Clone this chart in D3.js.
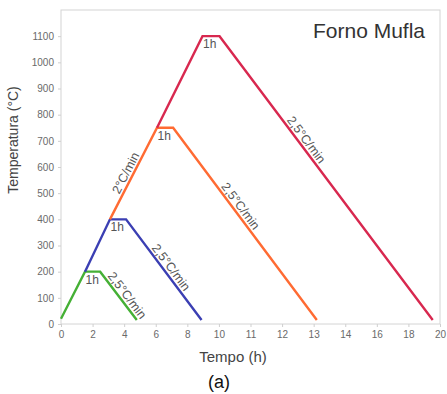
<!DOCTYPE html>
<html>
<head>
<meta charset="utf-8">
<script src="https://cdn.jsdelivr.net/npm/d3@7"></script>
<style>
  body { margin: 0; background: #fff; }
  svg { font-family: "Liberation Sans", Arial, sans-serif; }
</style>
</head>
<body>
<svg id="chart" width="447" height="394"></svg>
<script>
// x axis labels as printed (evenly spaced, uneven values)
const xTickLabels = ['0','2','4','6','8','10','11','12','13','14','16','18','20']
const yTicks = [0,100,200,300,400,500,600,700,800,900,1000,1100]

// x values are in tick-slot units (0 = first label, 12 = last label)
const greenX = [0, 0.76, 1.24, 2.40]
const greenY = [20, 200, 200, 15]
const blueX = [0.76, 1.55, 2.06, 4.45]
const blueY = [200, 400, 400, 15]
const orangeX = [1.55, 3.04, 3.55, 8.10]
const orangeY = [400, 750, 750, 15]
const redX = [3.04, 4.48, 5.02, 11.77]
const redY = [750, 1100, 1100, 15]

const seriesNames = ['green','blue','orange','red']
const seriesColors = ['#45b035','#3b3fb3','#ff6b33','#d8284f']

// rate labels: series, segment, position along segment
const rateText = ['2,5°C/min','2,5°C/min','2,5°C/min','2,5°C/min','2°C/min']
const rateSeries = [0,1,2,3,2]
const rateSeg = [2,2,2,2,0]
const rateT = [0.58,0.52,0.43,0.38,0.47]

const svg = d3.select('#chart')
const margin = { top: 10, bottom: 70, right: 7, left: 61 }
const width = 447, height = 394
const innerWidth = width - margin.left - margin.right
const innerHeight = height - margin.top - margin.bottom

const xScale = d3.scaleLinear().domain([0, xTickLabels.length - 1]).range([0, innerWidth])
const yScale = d3.scaleLinear().domain([0, 1200]).range([innerHeight, 0])

const g = svg.append('g').attr('transform', `translate(${margin.left},${margin.top})`)

// frame
g.append('rect')
  .attr('width', innerWidth).attr('height', innerHeight)
  .attr('fill', 'none').attr('stroke', '#d4d4d4').attr('stroke-width', 1)

const xAxis = d3.axisBottom(xScale)
  .tickValues(d3.range(xTickLabels.length))
  .tickFormat(i => xTickLabels[i])
  .tickSize(3).tickPadding(4)
const xg = g.append('g').attr('transform', `translate(0,${innerHeight})`).call(xAxis)

const yAxis = d3.axisLeft(yScale).tickValues(yTicks).tickFormat(d3.format('d'))
  .tickSize(3).tickPadding(4)
const yg = g.append('g').call(yAxis)

;[xg, yg].forEach(a => {
  a.select('.domain').remove()
  a.selectAll('line').attr('stroke', '#cfcfcf')
  a.selectAll('text').attr('fill', '#6a6a6a').style('font-size', '10px')
})

const allX = [greenX, blueX, orangeX, redX]
const allY = [greenY, blueY, orangeY, redY]

const line = d3.line().x(d => xScale(d[0])).y(d => yScale(d[1]))

seriesNames.forEach((name, s) => {
  const pts = allX[s].map((x, i) => [x, allY[s][i]])
  g.append('path')
    .attr('class', 'series-' + name)
    .attr('d', line(pts))
    .attr('fill', 'none')
    .attr('stroke', seriesColors[s])
    .attr('stroke-width', 2.4)

  // "1h" under the start of each plateau
  g.append('text')
    .attr('x', xScale(allX[s][1]) + 0.5)
    .attr('y', yScale(allY[s][1]) + 12)
    .attr('fill', '#555')
    .style('font-size', '12px')
    .text('1h')
})

rateText.forEach((txt, k) => {
  const s = rateSeries[k], j = rateSeg[k]
  const x0 = xScale(allX[s][j]), y0 = yScale(allY[s][j])
  const x1 = xScale(allX[s][j + 1]), y1 = yScale(allY[s][j + 1])
  const dx = x1 - x0, dy = y1 - y0
  const len = Math.hypot(dx, dy)
  const off = 3
  const cx = x0 + dx * rateT[k] + dy / len * off
  const cy = y0 + dy * rateT[k] - dx / len * off
  const ang = Math.atan2(dy, dx) * 180 / Math.PI
  g.append('text')
    .attr('transform', `translate(${cx},${cy}) rotate(${ang})`)
    .attr('text-anchor', 'middle')
    .attr('fill', '#555')
    .style('font-size', '12.5px')
    .text(txt)
})

// titles
g.append('text')
  .attr('x', 364).attr('y', 28)
  .attr('text-anchor', 'end')
  .attr('fill', '#333')
  .style('font-size', '21px')
  .text('Forno Mufla')

g.append('text')
  .attr('transform', 'rotate(-90)')
  .attr('x', -130).attr('y', -43)
  .attr('text-anchor', 'middle')
  .attr('fill', '#444')
  .style('font-size', '14px')
  .text('Temperatura (°C)')

g.append('text')
  .attr('x', 172).attr('y', innerHeight + 38)
  .attr('text-anchor', 'middle')
  .attr('fill', '#444')
  .style('font-size', '15px')
  .text('Tempo (h)')

g.append('text')
  .attr('x', 158).attr('y', innerHeight + 64)
  .attr('text-anchor', 'middle')
  .attr('fill', '#111')
  .style('font-size', '18px')
  .text('(a)')
</script>
</body>
</html>
